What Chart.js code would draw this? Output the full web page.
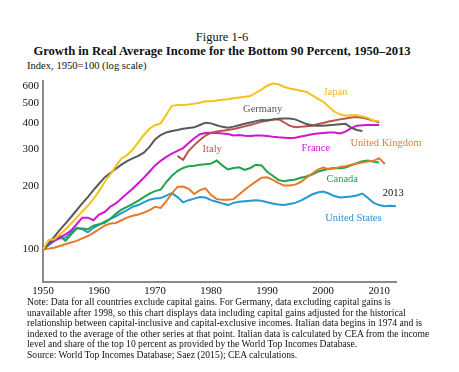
<!DOCTYPE html>
<html>
<head>
<meta charset="utf-8">
<script src="https://cdn.jsdelivr.net/npm/chart.js@4.4.1/dist/chart.umd.min.js"></script>
<style>
  body { margin: 0; width: 459px; height: 372px; background: #fff; position: relative; overflow: hidden;
         font-family: 'Liberation Serif', 'Times New Roman', serif; color: #111; }
  .t { position: absolute; white-space: nowrap; }
  #chartBox { position: absolute; left: 0; top: 70px; width: 459px; height: 230px; }
  .note { position: absolute; left: 27px; font-size: 9.6px; line-height: 10.6px; white-space: nowrap; }
</style>
</head>
<body>
<div class="t" style="left:0;width:444px;top:30px;text-align:center;font-size:12.5px;line-height:15px;">Figure 1-6</div>
<div class="t" style="left:0;width:444px;top:44px;text-align:center;font-size:12.6px;line-height:15px;font-weight:bold;">Growth in Real Average Income for the Bottom 90 Percent, 1950&ndash;2013</div>
<div class="t" style="left:27px;top:59px;font-size:10.6px;line-height:13px;">Index, 1950=100 (log scale)</div>
<div id="chartBox"><canvas id="chart" width="459" height="230"></canvas></div>
<div class="note" style="top:297px;">
Note: Data for all countries exclude capital gains. For Germany, data excluding capital gains is<br>
unavailable after 1998, so this chart displays data including capital gains adjusted for the historical<br>
relationship between capital-inclusive and capital-exclusive incomes. Italian data begins in 1974 and is<br>
indexed to the average of the other series at that point. Italian data is calculated by CEA from the income<br>
level and share of the top 10 percent as provided by the World Top Incomes Database.<br>
Source: World Top Incomes Database; Saez (2015); CEA calculations.
</div>
<script>
// Index, 1950=100
const japanStart = 1950;
const japan = [100, 111, 112, 118, 125, 133, 142, 152, 162, 174,
  190, 210, 228, 250, 272, 282, 300, 325, 352, 377,
  392, 400, 440, 485, 490, 490, 492, 497, 502, 510,
  510, 514, 518, 522, 527, 532, 536, 540, 560, 580,
  605, 620, 615, 598, 587, 580, 572, 565, 545, 525,
  508, 480, 455, 442, 435, 437, 437, 432, 425, 412,
  410];

const germanyStart = 1950;
const germany = [100, 107, 115, 124, 133, 143, 154, 166, 178, 192,
  206, 221, 232, 243, 254, 264, 272, 280, 290, 309,
  335, 352, 362, 368, 372, 377, 380, 383, 393, 403,
  400, 392, 385, 381, 386, 392, 398, 404, 410, 415,
  414, 418, 421, 422, 422, 418, 408, 397, 392, 390,
  390, 392, 394, 396, 398, 382, 372, 368];

const italyStart = 1974;
const italy = [280, 268, 296, 315, 333, 350, 360, 366, 369, 372,
  376, 381, 387, 393, 400, 407, 412, 416, 419, 405,
  390, 383, 385, 388, 390, 396, 402, 408, 413, 418,
  422, 427, 429, 426, 420, 412, 405];

const franceStart = 1950;
const france = [100, 106, 110, 114, 118, 123, 132, 142, 142, 138,
  147, 151, 160, 166, 175, 185, 195, 207, 220, 235,
  252, 265, 277, 287, 296, 305, 322, 340, 355, 360,
  361, 360, 358, 356, 350, 352, 349, 348, 350, 350,
  348, 345, 343, 342, 341, 342, 346, 350, 355, 358,
  360, 362, 362, 358, 365, 380, 390, 392, 393, 393,
  393];

const ukStart = 1950;
const uk = [100, 101, 102, 104, 106, 108, 110, 113, 116, 120,
  125, 130, 133, 134, 138, 142, 145, 147, 150, 154,
  160, 158, 170, 185, 199, 200, 195, 184, 192, 196,
  182, 174, 173, 173, 174, 183, 193, 202, 211, 220,
  221, 215, 208, 202, 202, 204, 210, 220, 230, 240,
  246, 242, 244, 248, 250, 254, 257, 260, 263, 265,
  273, 256];

const canadaStart = 1950;
const canada = [100, 106, 112, 116, 110, 118, 126, 126, 125, 130,
  132, 134, 140, 148, 155, 160, 165, 171, 178, 185,
  190, 193, 210, 225, 237, 245, 250, 251, 254, 255,
  257, 266, 252, 241, 245, 247, 240, 245, 254, 252,
  235, 225, 215, 212, 214, 216, 220, 223, 228, 235,
  239, 243, 245, 244, 246, 252, 258, 264, 266, 262,
  260];

const usStart = 1950;
const us = [100, 105, 110, 113, 114, 121, 127, 125, 121, 127,
  131, 136, 140, 144, 149, 154, 160, 163, 168, 173,
  175, 176, 181, 186, 178, 168, 172, 175, 178, 177,
  172, 169, 166, 163, 167, 169, 170, 171, 172, 171,
  168, 166, 164, 163, 165, 167, 171, 177, 183, 187,
  189, 185, 180, 177, 178, 179, 181, 185, 176, 167,
  163, 161, 162, 161];

const xTicks = [1950, 1960, 1970, 1980, 1990, 2000, 2010];
const yTicks = [100, 200, 300, 400, 500, 600];

function pts(start, values) {
  return values.map((v, i) => ({ x: start + i, y: v }));
}

function line(label, start, values, color) {
  return {
    label: label,
    data: pts(start, values),
    borderColor: color,
    backgroundColor: color,
    borderWidth: 2,
    pointRadius: 0,
    tension: 0,
    fill: false
  };
}

// Texte des séries, posé sur le graphique
const seriesText = {
  id: 'seriesText',
  afterDatasetsDraw(chart) {
    const { ctx, scales } = chart;
    const items = [
      ['Japan', '#f2b51a', 2002.2, 566],
      ['Germany', '#555555', 1989.2, 466],
      ['Italy', '#b5534c', 1980.2, 301],
      ['France', '#cc14cc', 1998.7, 306],
      ['United Kingdom', '#e8782a', 2011.2, 320],
      ['Canada', '#1ea34a', 2003.4, 217],
      ['2013', '#111111', 2012.5, 185],
      ['United States', '#2296d4', 2005.4, 141]
    ];
    ctx.save();
    ctx.font = "10.5px 'Liberation Serif', serif";
    ctx.textAlign = 'center';
    ctx.textBaseline = 'middle';
    items.forEach(([t, c, yr, v]) => {
      ctx.fillStyle = c;
      ctx.fillText(t, scales.x.getPixelForValue(yr), scales.y.getPixelForValue(v));
    });
    ctx.restore();
  }
};

new Chart(document.getElementById('chart'), {
  type: 'line',
  data: {
    datasets: [
      line('Japan', japanStart, japan, '#f5c21b'),
      line('Germany', germanyStart, germany, '#58595b'),
      line('Italy', italyStart, italy, '#b8534d'),
      line('France', franceStart, france, '#d014d0'),
      line('United Kingdom', ukStart, uk, '#e8782a'),
      line('Canada', canadaStart, canada, '#1ea34a'),
      line('United States', usStart, us, '#2398d5')
    ]
  },
  options: {
    responsive: false,
    animation: false,
    layout: { padding: { top: 5, right: 63, left: 0, bottom: 0 } },
    plugins: { legend: { display: false }, tooltip: { enabled: false } },
    scales: {
      x: {
        type: 'linear',
        min: 1950,
        max: 2013,
        afterBuildTicks: s => { s.ticks = xTicks.map(v => ({ value: v })); },
        afterFit: s => { s.height = 18; },
        grid: { display: false, drawTicks: false },
        border: { color: '#8a8a8a', width: 2 },
        ticks: {
          padding: 3,
          color: '#111',
          font: { family: "'Liberation Serif', serif", size: 10.8 },
          maxRotation: 0,
          callback: v => String(v)
        }
      },
      y: {
        type: 'logarithmic',
        min: 70,
        max: 640,
        afterBuildTicks: s => { s.ticks = yTicks.map(v => ({ value: v })); },
        afterFit: s => { s.width = 43; },
        grid: { display: false, drawTicks: false },
        border: { color: '#8a8a8a', width: 2 },
        ticks: {
          padding: 4,
          color: '#111',
          font: { family: "'Liberation Serif', serif", size: 11 },
          callback: v => String(v)
        }
      }
    }
  },
  plugins: [seriesText]
});
</script>
</body>
</html>
